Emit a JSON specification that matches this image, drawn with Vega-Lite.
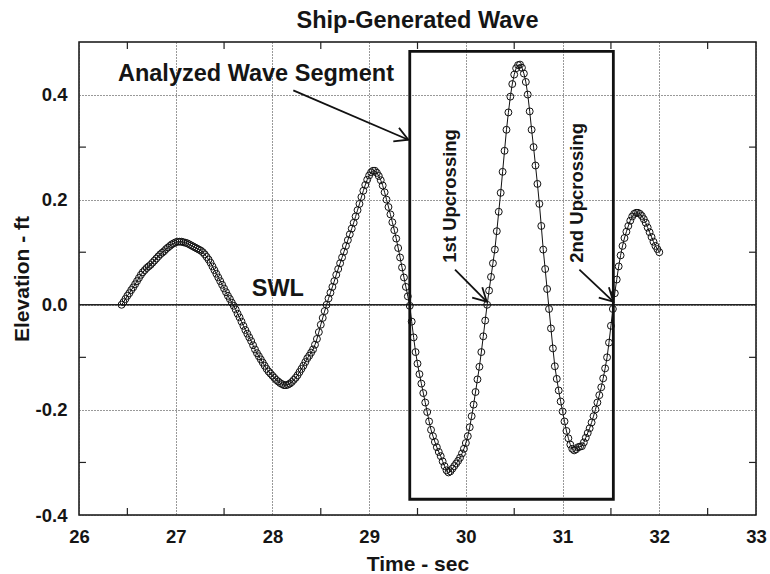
{
  "$schema": "https://vega.github.io/schema/vega-lite/v6.json",
  "width": 677,
  "height": 473,
  "autosize": {"type": "none"},
  "padding": {"left": 79, "top": 42, "right": 14, "bottom": 59},
  "background": "white",
  "config": {"font": "Liberation Sans", "view": {"stroke": "#111", "strokeWidth": 1.5}},
  "title": {"text": "Ship-Generated Wave", "fontSize": 23.5, "fontWeight": "bold", "font": "Liberation Sans", "color": "#151515", "anchor": "middle", "baseline": "top", "frame": "group", "offset": 9},
  "datasets": {
    "wave": [
      {"t":26.44,"v":0.000},{"t":26.46,"v":0.005},{"t":26.48,"v":0.011},{"t":26.50,"v":0.017},{"t":26.52,"v":0.022},{"t":26.54,"v":0.028},{"t":26.56,"v":0.033},{"t":26.58,"v":0.039},{"t":26.60,"v":0.045},{"t":26.62,"v":0.051},{"t":26.64,"v":0.057},{"t":26.66,"v":0.062},{"t":26.68,"v":0.066},{"t":26.70,"v":0.070},{"t":26.72,"v":0.073},{"t":26.74,"v":0.076},{"t":26.76,"v":0.080},{"t":26.78,"v":0.084},{"t":26.80,"v":0.088},{"t":26.82,"v":0.092},{"t":26.84,"v":0.096},{"t":26.86,"v":0.099},{"t":26.88,"v":0.102},{"t":26.90,"v":0.106},{"t":26.92,"v":0.109},{"t":26.94,"v":0.112},{"t":26.96,"v":0.115},{"t":26.98,"v":0.117},{"t":27.00,"v":0.119},{"t":27.02,"v":0.120},{"t":27.04,"v":0.120},{"t":27.06,"v":0.120},{"t":27.08,"v":0.119},{"t":27.10,"v":0.118},{"t":27.12,"v":0.117},{"t":27.14,"v":0.115},{"t":27.16,"v":0.113},{"t":27.18,"v":0.111},{"t":27.20,"v":0.109},{"t":27.22,"v":0.107},{"t":27.24,"v":0.105},{"t":27.26,"v":0.103},{"t":27.28,"v":0.100},{"t":27.30,"v":0.096},{"t":27.32,"v":0.091},{"t":27.34,"v":0.086},{"t":27.36,"v":0.080},{"t":27.38,"v":0.073},{"t":27.40,"v":0.066},{"t":27.42,"v":0.059},{"t":27.44,"v":0.052},{"t":27.46,"v":0.045},{"t":27.48,"v":0.038},{"t":27.50,"v":0.031},{"t":27.52,"v":0.024},{"t":27.54,"v":0.017},{"t":27.56,"v":0.011},{"t":27.58,"v":0.004},{"t":27.60,"v":-0.002},{"t":27.62,"v":-0.009},{"t":27.64,"v":-0.017},{"t":27.66,"v":-0.024},{"t":27.68,"v":-0.032},{"t":27.70,"v":-0.040},{"t":27.72,"v":-0.048},{"t":27.74,"v":-0.055},{"t":27.76,"v":-0.062},{"t":27.78,"v":-0.069},{"t":27.80,"v":-0.077},{"t":27.82,"v":-0.085},{"t":27.84,"v":-0.092},{"t":27.86,"v":-0.098},{"t":27.88,"v":-0.104},{"t":27.90,"v":-0.110},{"t":27.92,"v":-0.116},{"t":27.94,"v":-0.122},{"t":27.96,"v":-0.127},{"t":27.98,"v":-0.131},{"t":28.00,"v":-0.135},{"t":28.02,"v":-0.139},{"t":28.04,"v":-0.143},{"t":28.06,"v":-0.146},{"t":28.08,"v":-0.149},{"t":28.10,"v":-0.151},{"t":28.12,"v":-0.153},{"t":28.14,"v":-0.153},{"t":28.16,"v":-0.152},{"t":28.18,"v":-0.150},{"t":28.20,"v":-0.147},{"t":28.22,"v":-0.143},{"t":28.24,"v":-0.139},{"t":28.26,"v":-0.134},{"t":28.28,"v":-0.128},{"t":28.30,"v":-0.122},{"t":28.32,"v":-0.116},{"t":28.34,"v":-0.109},{"t":28.36,"v":-0.102},{"t":28.38,"v":-0.097},{"t":28.40,"v":-0.091},{"t":28.42,"v":-0.085},{"t":28.44,"v":-0.076},{"t":28.46,"v":-0.065},{"t":28.48,"v":-0.052},{"t":28.50,"v":-0.038},{"t":28.52,"v":-0.025},{"t":28.54,"v":-0.012},{"t":28.56,"v":0.000},{"t":28.58,"v":0.012},{"t":28.60,"v":0.023},{"t":28.62,"v":0.034},{"t":28.64,"v":0.045},{"t":28.66,"v":0.057},{"t":28.68,"v":0.068},{"t":28.70,"v":0.079},{"t":28.72,"v":0.090},{"t":28.74,"v":0.101},{"t":28.76,"v":0.112},{"t":28.78,"v":0.123},{"t":28.80,"v":0.134},{"t":28.82,"v":0.145},{"t":28.84,"v":0.156},{"t":28.86,"v":0.168},{"t":28.88,"v":0.180},{"t":28.90,"v":0.192},{"t":28.92,"v":0.205},{"t":28.94,"v":0.217},{"t":28.96,"v":0.228},{"t":28.98,"v":0.238},{"t":29.00,"v":0.246},{"t":29.02,"v":0.252},{"t":29.04,"v":0.255},{"t":29.06,"v":0.255},{"t":29.08,"v":0.251},{"t":29.10,"v":0.245},{"t":29.12,"v":0.237},{"t":29.14,"v":0.227},{"t":29.16,"v":0.214},{"t":29.18,"v":0.200},{"t":29.20,"v":0.186},{"t":29.22,"v":0.172},{"t":29.24,"v":0.157},{"t":29.26,"v":0.142},{"t":29.28,"v":0.126},{"t":29.30,"v":0.108},{"t":29.32,"v":0.090},{"t":29.34,"v":0.071},{"t":29.36,"v":0.052},{"t":29.38,"v":0.034},{"t":29.40,"v":0.016},{"t":29.42,"v":-0.002},{"t":29.44,"v":-0.032},{"t":29.46,"v":-0.062},{"t":29.48,"v":-0.090},{"t":29.50,"v":-0.112},{"t":29.52,"v":-0.132},{"t":29.54,"v":-0.150},{"t":29.56,"v":-0.168},{"t":29.58,"v":-0.186},{"t":29.60,"v":-0.204},{"t":29.62,"v":-0.222},{"t":29.64,"v":-0.238},{"t":29.66,"v":-0.250},{"t":29.68,"v":-0.261},{"t":29.70,"v":-0.271},{"t":29.72,"v":-0.280},{"t":29.74,"v":-0.288},{"t":29.76,"v":-0.298},{"t":29.78,"v":-0.307},{"t":29.80,"v":-0.315},{"t":29.82,"v":-0.319},{"t":29.84,"v":-0.317},{"t":29.86,"v":-0.312},{"t":29.88,"v":-0.307},{"t":29.90,"v":-0.302},{"t":29.92,"v":-0.297},{"t":29.94,"v":-0.291},{"t":29.96,"v":-0.283},{"t":29.98,"v":-0.274},{"t":30.00,"v":-0.263},{"t":30.02,"v":-0.250},{"t":30.04,"v":-0.233},{"t":30.06,"v":-0.212},{"t":30.08,"v":-0.190},{"t":30.10,"v":-0.166},{"t":30.12,"v":-0.142},{"t":30.14,"v":-0.118},{"t":30.16,"v":-0.090},{"t":30.18,"v":-0.060},{"t":30.20,"v":-0.030},{"t":30.22,"v":0.000},{"t":30.24,"v":0.027},{"t":30.26,"v":0.053},{"t":30.28,"v":0.079},{"t":30.30,"v":0.105},{"t":30.32,"v":0.140},{"t":30.34,"v":0.177},{"t":30.36,"v":0.213},{"t":30.38,"v":0.253},{"t":30.40,"v":0.293},{"t":30.42,"v":0.333},{"t":30.44,"v":0.366},{"t":30.46,"v":0.396},{"t":30.48,"v":0.420},{"t":30.50,"v":0.438},{"t":30.52,"v":0.450},{"t":30.54,"v":0.456},{"t":30.56,"v":0.457},{"t":30.58,"v":0.451},{"t":30.60,"v":0.440},{"t":30.62,"v":0.424},{"t":30.64,"v":0.400},{"t":30.66,"v":0.368},{"t":30.68,"v":0.333},{"t":30.70,"v":0.300},{"t":30.72,"v":0.265},{"t":30.74,"v":0.230},{"t":30.76,"v":0.192},{"t":30.78,"v":0.150},{"t":30.80,"v":0.105},{"t":30.82,"v":0.068},{"t":30.84,"v":0.030},{"t":30.86,"v":-0.008},{"t":30.88,"v":-0.045},{"t":30.90,"v":-0.083},{"t":30.92,"v":-0.117},{"t":30.94,"v":-0.141},{"t":30.96,"v":-0.163},{"t":30.98,"v":-0.184},{"t":31.00,"v":-0.203},{"t":31.02,"v":-0.222},{"t":31.04,"v":-0.240},{"t":31.06,"v":-0.254},{"t":31.08,"v":-0.266},{"t":31.10,"v":-0.274},{"t":31.12,"v":-0.277},{"t":31.14,"v":-0.275},{"t":31.16,"v":-0.271},{"t":31.18,"v":-0.270},{"t":31.20,"v":-0.269},{"t":31.22,"v":-0.262},{"t":31.24,"v":-0.253},{"t":31.26,"v":-0.244},{"t":31.28,"v":-0.235},{"t":31.30,"v":-0.224},{"t":31.32,"v":-0.212},{"t":31.34,"v":-0.199},{"t":31.36,"v":-0.186},{"t":31.38,"v":-0.172},{"t":31.40,"v":-0.157},{"t":31.42,"v":-0.140},{"t":31.44,"v":-0.121},{"t":31.46,"v":-0.100},{"t":31.48,"v":-0.072},{"t":31.50,"v":-0.040},{"t":31.52,"v":-0.008},{"t":31.54,"v":0.022},{"t":31.56,"v":0.048},{"t":31.58,"v":0.073},{"t":31.60,"v":0.094},{"t":31.62,"v":0.112},{"t":31.64,"v":0.127},{"t":31.66,"v":0.139},{"t":31.68,"v":0.150},{"t":31.70,"v":0.160},{"t":31.72,"v":0.168},{"t":31.74,"v":0.173},{"t":31.76,"v":0.175},{"t":31.78,"v":0.175},{"t":31.80,"v":0.173},{"t":31.82,"v":0.169},{"t":31.84,"v":0.163},{"t":31.86,"v":0.156},{"t":31.88,"v":0.147},{"t":31.90,"v":0.138},{"t":31.92,"v":0.129},{"t":31.94,"v":0.120},{"t":31.96,"v":0.112},{"t":31.98,"v":0.106},{"t":32.00,"v":0.100}
    ],
    "swl": [{"v": 0}],
    "xminor": [{"t":26.5},{"t":27.5},{"t":28.5},{"t":29.5},{"t":30.5},{"t":31.5},{"t":32.5}],
    "yminor": [{"v":-0.3},{"v":-0.1},{"v":0.1},{"v":0.3}],
    "segment": [{"t1":29.42,"t2":31.525,"v1":-0.37,"v2":0.482}],
    "arrows": [
      {"name":"segment","t1":28.216,"v1":0.408,"t2":29.405,"v2":0.314},
      {"name":"first","t1":29.888,"v1":0.067,"t2":30.216,"v2":0.006},
      {"name":"second","t1":31.174,"v1":0.067,"t2":31.525,"v2":0.006}
    ],
    "labels": [
      {"text":"Analyzed Wave Segment","t":26.403,"v":0.4267},
      {"text":"SWL","t":27.786,"v":0.0158}
    ],
    "vlabels": [
      {"text":"1st Upcrossing","t":29.899,"v":0.08},
      {"text":"2nd Upcrossing","t":31.212,"v":0.08}
    ]
  },
  "layer": [
    {
      "data": {"name": "wave"},
      "mark": {"type": "line", "color": "#111", "strokeWidth": 1},
      "encoding": {
        "x": {"field": "t", "type": "quantitative", "scale": {"domain": [26, 33], "nice": false, "zero": false},
          "axis": {"title": "Time - sec", "values": [26,27,28,29,30,31,32,33], "format": "d", "domain": false, "ticks": false,
            "grid": true, "gridDash": [1, 2], "gridColor": "#333", "gridWidth": 1, "gridOpacity": 1,
            "labelFont": "Liberation Sans", "labelFontSize": 18.5, "labelFontWeight": "bold", "labelColor": "#151515", "labelPadding": 12,
            "titleFont": "Liberation Sans", "titleFontSize": 21, "titleFontWeight": "bold", "titleColor": "#151515", "titlePadding": 8, "labelFlush": false}},
        "y": {"field": "v", "type": "quantitative", "scale": {"domain": [-0.4, 0.5], "nice": false, "zero": false},
          "axis": {"title": "Elevation - ft", "values": [-0.4,-0.2,0,0.2,0.4], "labelExpr": "replace(format(datum.value, '.1f'), '−', '-')", "domain": false, "ticks": false,
            "grid": true, "gridDash": [1, 2], "gridColor": "#333", "gridWidth": 1, "gridOpacity": 1,
            "labelFont": "Liberation Sans", "labelFontSize": 18.5, "labelFontWeight": "bold", "labelColor": "#151515", "labelPadding": 12,
            "titleFont": "Liberation Sans", "titleFontSize": 21, "titleFontWeight": "bold", "titleColor": "#151515", "titlePadding": 3, "labelFlush": false}}
      }
    },
    {
      "data": {"name": "swl"},
      "mark": {"type": "rule", "color": "#222", "strokeWidth": 1.5},
      "encoding": {"y": {"field": "v", "type": "quantitative"}}
    },
    {
      "data": {"name": "xminor"},
      "mark": {"type": "rule", "color": "#222", "strokeWidth": 1.2},
      "encoding": {"x": {"field": "t", "type": "quantitative"}, "y": {"datum": -0.4, "type": "quantitative"}, "y2": {"datum": -0.3867}}
    },
    {
      "data": {"name": "xminor"},
      "mark": {"type": "rule", "color": "#222", "strokeWidth": 1.2},
      "encoding": {"x": {"field": "t", "type": "quantitative"}, "y": {"datum": 0.5, "type": "quantitative"}, "y2": {"datum": 0.4867}}
    },
    {
      "data": {"name": "yminor"},
      "mark": {"type": "rule", "color": "#222", "strokeWidth": 1.2},
      "encoding": {"y": {"field": "v", "type": "quantitative"}, "x": {"datum": 26, "type": "quantitative"}, "x2": {"datum": 26.072}}
    },
    {
      "data": {"name": "yminor"},
      "mark": {"type": "rule", "color": "#222", "strokeWidth": 1.2},
      "encoding": {"y": {"field": "v", "type": "quantitative"}, "x": {"datum": 33, "type": "quantitative"}, "x2": {"datum": 32.928}}
    },
    {
      "data": {"name": "segment"},
      "mark": {"type": "rect", "fill": null, "fillOpacity": 0, "stroke": "#111", "strokeWidth": 2.8},
      "encoding": {"x": {"field": "t1", "type": "quantitative"}, "x2": {"field": "t2"}, "y": {"field": "v1", "type": "quantitative"}, "y2": {"field": "v2"}}
    },
    {
      "data": {"name": "wave"},
      "mark": {"type": "point", "shape": "circle", "filled": false, "stroke": "#111", "strokeWidth": 1, "size": 48, "opacity": 1},
      "encoding": {"x": {"field": "t", "type": "quantitative"}, "y": {"field": "v", "type": "quantitative"}}
    },
    {
      "data": {"name": "arrows"},
      "mark": {"type": "rule", "color": "#111", "strokeWidth": 1.8},
      "encoding": {"x": {"field": "t1", "type": "quantitative"}, "x2": {"field": "t2"}, "y": {"field": "v1", "type": "quantitative"}, "y2": {"field": "v2"}}
    },
    {
      "data": {"name": "arrows"},
      "transform": [{"filter": "datum.name === 'segment'"}],
      "mark": {"type": "point", "shape": "M-1,-0.55L0,0L-1,0.55", "filled": false, "stroke": "#111", "strokeWidth": 1.8, "size": 700, "angle": 23, "opacity": 1},
      "encoding": {"x": {"field": "t2", "type": "quantitative"}, "y": {"field": "v2", "type": "quantitative"}}
    },
    {
      "data": {"name": "arrows"},
      "transform": [{"filter": "datum.name !== 'segment'"}],
      "mark": {"type": "point", "shape": "M-1,-0.55L0,0L-1,0.55", "filled": false, "stroke": "#111", "strokeWidth": 1.8, "size": 700, "angle": 44, "opacity": 1},
      "encoding": {"x": {"field": "t2", "type": "quantitative"}, "y": {"field": "v2", "type": "quantitative"}}
    },
    {
      "data": {"name": "labels"},
      "mark": {"type": "text", "font": "Liberation Sans", "fontSize": 23.5, "fontWeight": "bold", "color": "#151515", "align": "left", "baseline": "alphabetic"},
      "encoding": {"x": {"field": "t", "type": "quantitative"}, "y": {"field": "v", "type": "quantitative"}, "text": {"field": "text"}}
    },
    {
      "data": {"name": "vlabels"},
      "mark": {"type": "text", "font": "Liberation Sans", "fontSize": 18.5, "fontWeight": "bold", "color": "#151515", "align": "left", "baseline": "alphabetic", "angle": 270},
      "encoding": {"x": {"field": "t", "type": "quantitative"}, "y": {"field": "v", "type": "quantitative"}, "text": {"field": "text"}}
    }
  ]
}
